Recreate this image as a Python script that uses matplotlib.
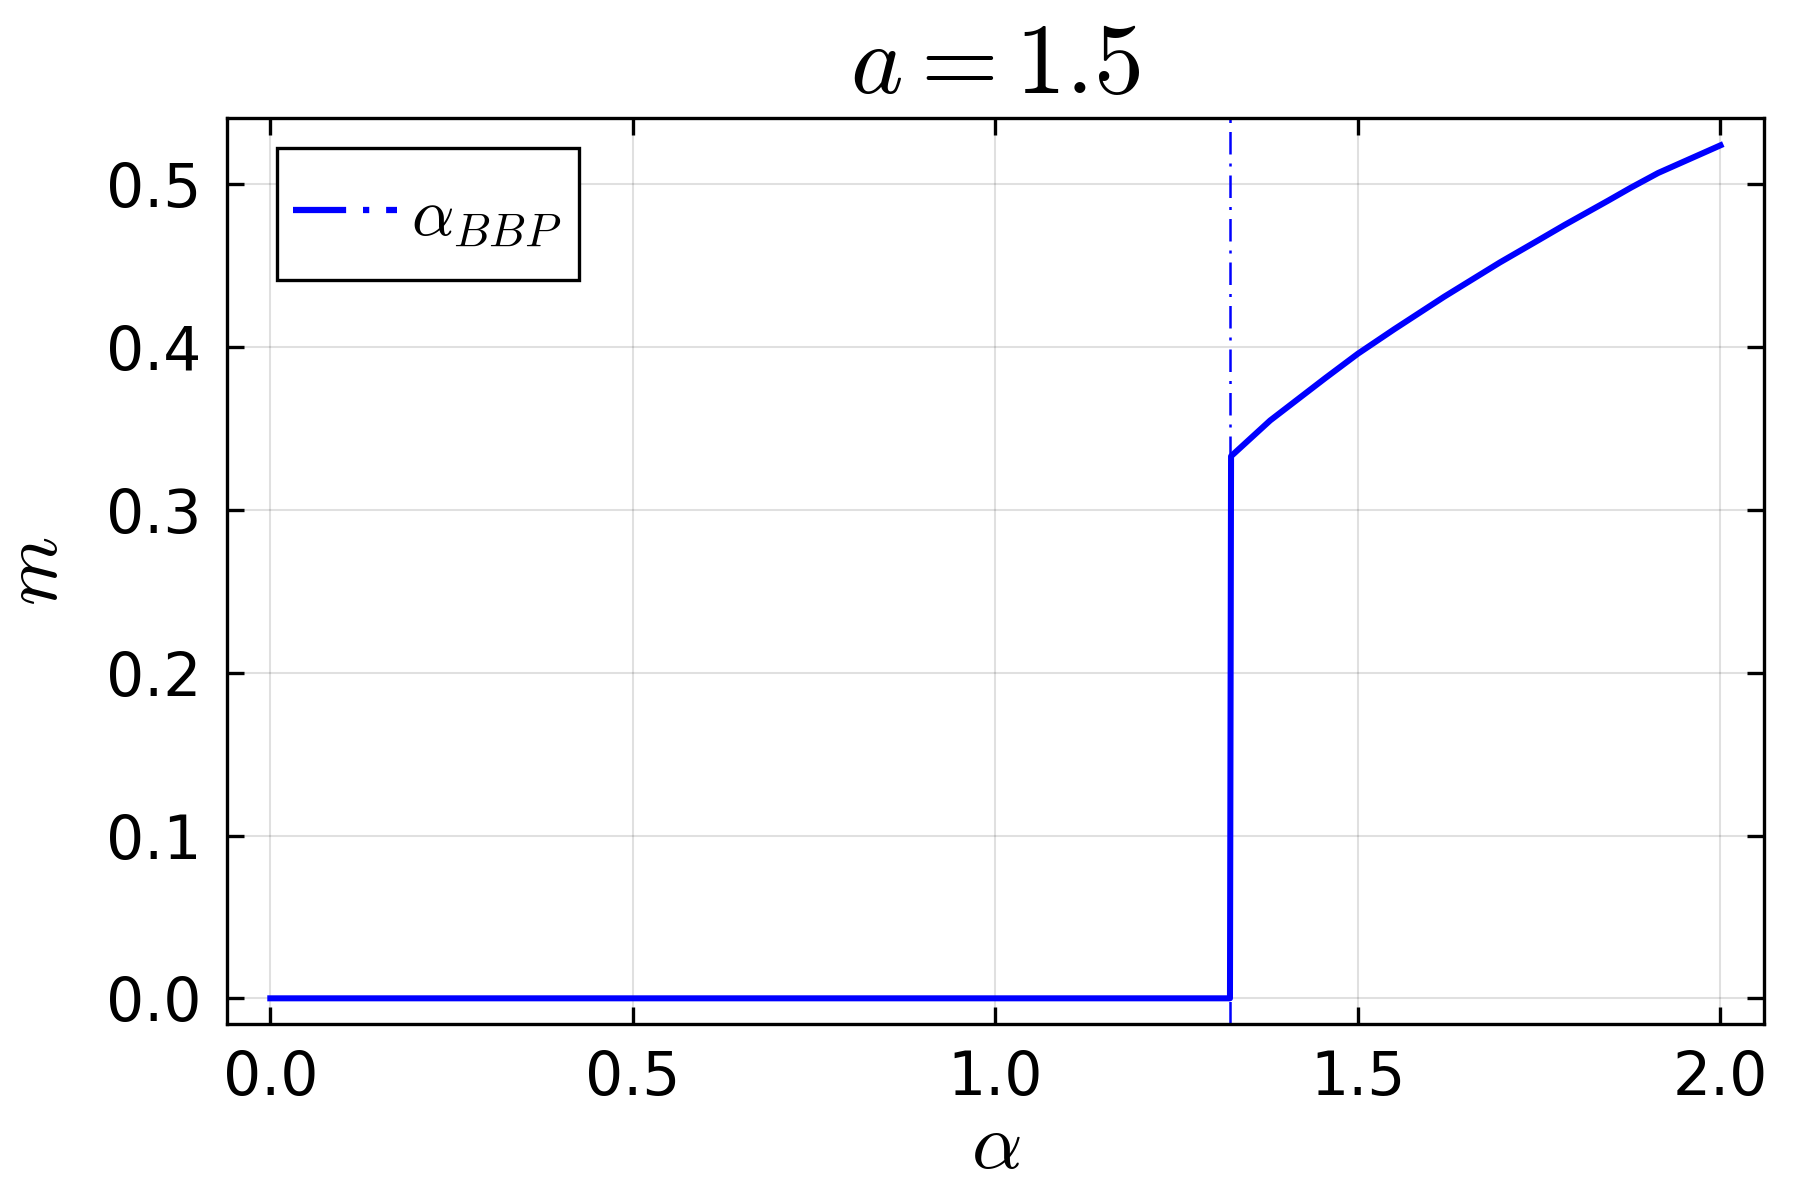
import numpy as np
import matplotlib
matplotlib.use("Agg")
import matplotlib.pyplot as plt
from matplotlib.lines import Line2D
from matplotlib.legend_handler import HandlerLine2D

plt.rcParams['mathtext.fontset'] = 'cm'
plt.rcParams['font.family'] = ['DejaVu Sans']

# m(alpha)
alpha = [0.0, 0.5, 1.0, 1.3235, 1.325, 1.379, 1.455, 1.5, 1.55, 1.619, 1.6956,
         1.75, 1.7847, 1.845, 1.8765, 1.914, 2.0]
m = [0.0, 0.0, 0.0, 0.0, 0.333, 0.355, 0.381, 0.396, 0.411, 0.431, 0.452,
     0.466, 0.475, 0.490, 0.498, 0.507, 0.524]
alpha_bbp = 1.324

xticks = [0.0, 0.5, 1.0, 1.5, 2.0]
yticks = [0.0, 0.1, 0.2, 0.3, 0.4, 0.5]


class LowerHandler(HandlerLine2D):
    # push the legend sample down a bit so it sits level with the label
    def create_artists(self, legend, orig_handle, xdescent, ydescent,
                       width, height, fontsize, trans):
        return super().create_artists(legend, orig_handle, xdescent,
                                      ydescent + 5, width, height,
                                      fontsize, trans)


fig = plt.figure(figsize=(6, 4), dpi=300)
ax = fig.add_axes([0.126, 0.1467, 0.854, 0.755])

ax.plot(alpha, m, color='blue', lw=1.45, zorder=3)
ax.axvline(alpha_bbp, color='blue', lw=0.6, dashes=(9, 3.6, 1.2, 3.6), zorder=2)

ax.set_xlim(-0.06, 2.06)
ax.set_ylim(-0.01575, 0.5408)
ax.set_xticks(xticks)
ax.set_yticks(yticks)
ax.set_xticklabels([f"{t:.1f}" for t in xticks])
ax.set_yticklabels([f"{t:.1f}" for t in yticks])
ax.tick_params(direction='in', top=True, right=True, length=4, width=0.8,
               labelsize=14.4, pad=6)
ax.grid(True, color='black', alpha=0.12, lw=0.5)
for s in ax.spines.values():
    s.set_linewidth(0.8)

ax.set_title(r"$a = 1.5$", fontsize=24, pad=6)
ax.set_xlabel(r"$\alpha$", fontsize=19, labelpad=0)
ax.set_ylabel(r"$m$", fontsize=19, labelpad=8)

h = Line2D([0], [0], color='blue', lw=1.5, dashes=(8.5, 2.7, 1, 2.7))
leg = ax.legend([h], [r"$\alpha_{BBP}$"], loc='upper left',
                bbox_to_anchor=(0.0325, 0.967), borderaxespad=0, fontsize=16,
                fancybox=False, framealpha=1, edgecolor='black',
                handlelength=1.55, handleheight=1.9, borderpad=0.25,
                handletextpad=0.22, handler_map={h: LowerHandler()})
leg.get_frame().set_linewidth(0.8)

fig.savefig("out.png", dpi=300)
